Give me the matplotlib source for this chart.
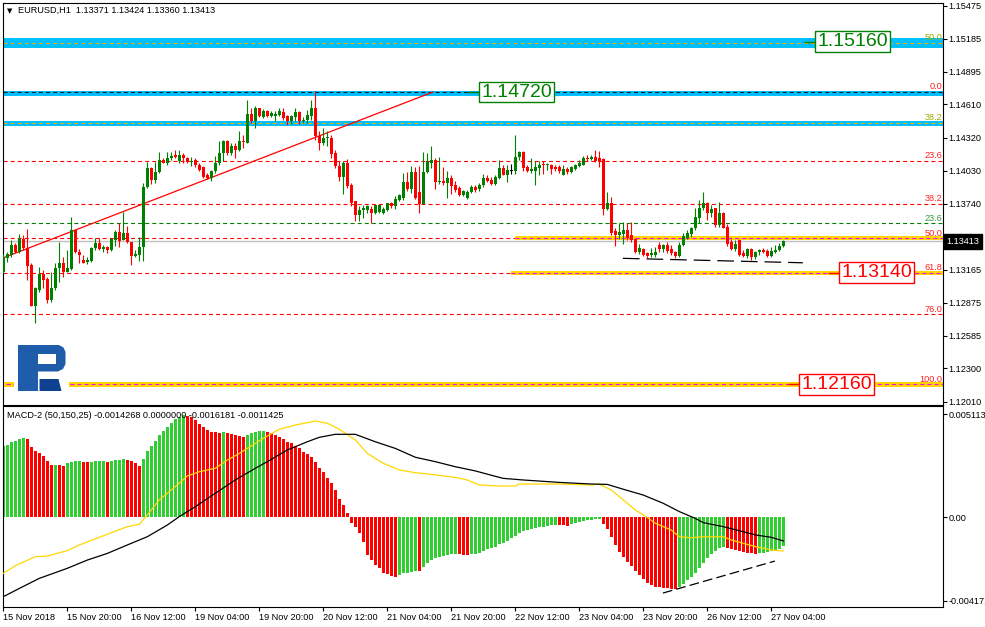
import numpy as np
import matplotlib
matplotlib.use("Agg")
from matplotlib import pyplot as plt
from matplotlib.patches import Polygon, Rectangle

plt.rcParams["font.family"] = ["Liberation Sans", "DejaVu Sans"]
plt.rcParams["lines.scale_dashes"] = False

# ---- EURUSD H1 candles (bar 0 = 15 Nov 2018 04:00) ----
opens = [
    1.13146, 1.13262, 1.13292, 1.13379, 1.13321, 1.13432, 1.13350, 1.13204, 1.12848, 1.12985,
    1.13125, 1.13079, 1.12898, 1.13000, 1.13175, 1.13219, 1.13146, 1.13166, 1.13510, 1.13321,
    1.13248, 1.13233, 1.13242, 1.13350, 1.13394, 1.13344, 1.13365, 1.13335, 1.13423, 1.13490,
    1.13423, 1.13481, 1.13408, 1.13283, 1.13292, 1.13365, 1.13884, 1.14050, 1.13948, 1.14015,
    1.14123, 1.14100, 1.14138, 1.14167, 1.14117, 1.14167, 1.14138, 1.14108, 1.14125, 1.14082,
    1.14062, 1.13989, 1.13965, 1.14024, 1.14097, 1.14184, 1.14286, 1.14184, 1.14243, 1.14213,
    1.14292, 1.14272, 1.14525, 1.14461, 1.14578, 1.14496, 1.14549, 1.14505, 1.14505, 1.14520,
    1.14543, 1.14505, 1.14461, 1.14496, 1.14543, 1.14461, 1.14476, 1.14505, 1.14578, 1.14330,
    1.14272, 1.14315, 1.14315, 1.14184, 1.14067, 1.13971, 1.14097, 1.13907, 1.13761, 1.13645,
    1.13688, 1.13688, 1.13697, 1.13659, 1.13665, 1.13659, 1.13688, 1.13747, 1.13718, 1.13776,
    1.13790, 1.13930, 1.13872, 1.14018, 1.13843, 1.13738, 1.14018, 1.14097, 1.14126, 1.13930,
    1.13942, 1.13922, 1.13965, 1.13907, 1.13878, 1.13820, 1.13790, 1.13843, 1.13884, 1.13872,
    1.13901, 1.13965, 1.13951, 1.13913, 1.13965, 1.14053, 1.13995, 1.14030, 1.14030, 1.14146,
    1.14193, 1.14059, 1.14030, 1.14030, 1.14053, 1.14082, 1.14076, 1.14082, 1.14059, 1.14059,
    1.13995, 1.14047, 1.14018, 1.14047, 1.14067, 1.14082, 1.14140, 1.14131, 1.14152, 1.14143,
    1.14131, 1.13694, 1.13744, 1.13501, 1.13466, 1.13472, 1.13510, 1.13466, 1.13431, 1.13321,
    1.13344, 1.13306, 1.13292, 1.13292, 1.13379, 1.13344, 1.13379, 1.13344, 1.13315, 1.13286,
    1.13379, 1.13443, 1.13472, 1.13525, 1.13618, 1.13700, 1.13744, 1.13656, 1.13700, 1.13554,
    1.13656, 1.13539, 1.13408, 1.13344, 1.13423, 1.13306, 1.13286, 1.13344, 1.13277, 1.13315,
    1.13335, 1.13327, 1.13286, 1.13315, 1.13335, 1.13371,
]
highs = [
    1.13300, 1.13321, 1.13423, 1.13394, 1.13473, 1.13467, 1.13516, 1.13219, 1.13015, 1.13190,
    1.13160, 1.13102, 1.13146, 1.13224, 1.13408, 1.13271, 1.13335, 1.13627, 1.13516, 1.13341,
    1.13292, 1.13277, 1.13365, 1.13437, 1.13437, 1.13379, 1.13370, 1.13437, 1.13510, 1.13569,
    1.13671, 1.13545, 1.13408, 1.13335, 1.13452, 1.13919, 1.14108, 1.14065, 1.14108, 1.14196,
    1.14138, 1.14196, 1.14196, 1.14210, 1.14210, 1.14187, 1.14152, 1.14152, 1.14140, 1.14097,
    1.14067, 1.14009, 1.14038, 1.14155, 1.14286, 1.14301, 1.14301, 1.14272, 1.14272, 1.14374,
    1.14345, 1.14651, 1.14578, 1.14593, 1.14578, 1.14572, 1.14563, 1.14549, 1.14549, 1.14578,
    1.14578, 1.14520, 1.14520, 1.14578, 1.14549, 1.14496, 1.14563, 1.14651, 1.14730, 1.14374,
    1.14403, 1.14380, 1.14345, 1.14213, 1.14111, 1.14111, 1.14135, 1.13922, 1.13767, 1.13717,
    1.13726, 1.13732, 1.13717, 1.13732, 1.13732, 1.13709, 1.13747, 1.13755, 1.13805, 1.13825,
    1.14009, 1.14018, 1.14067, 1.14059, 1.14067, 1.14193, 1.14184, 1.14243, 1.14140, 1.14146,
    1.14059, 1.14030, 1.13995, 1.13936, 1.13892, 1.13863, 1.13863, 1.13907, 1.13907, 1.13922,
    1.14000, 1.13995, 1.13971, 1.13995, 1.14126, 1.14082, 1.14082, 1.14088, 1.14345, 1.14205,
    1.14205, 1.14076, 1.14140, 1.14117, 1.14111, 1.14117, 1.14097, 1.14088, 1.14076, 1.14082,
    1.14076, 1.14059, 1.14067, 1.14088, 1.14126, 1.14155, 1.14170, 1.14166, 1.14210, 1.14201,
    1.14137, 1.13846, 1.13802, 1.13525, 1.13569, 1.13577, 1.13569, 1.13577, 1.13443, 1.13385,
    1.13350, 1.13315, 1.13350, 1.13364, 1.13408, 1.13385, 1.13402, 1.13379, 1.13327, 1.13408,
    1.13481, 1.13510, 1.13539, 1.13705, 1.13773, 1.13846, 1.13758, 1.13729, 1.13705, 1.13758,
    1.13671, 1.13560, 1.13431, 1.13423, 1.13431, 1.13335, 1.13356, 1.13356, 1.13327, 1.13344,
    1.13350, 1.13344, 1.13364, 1.13379, 1.13394, 1.13424,
]
lows = [
    1.13137, 1.13233, 1.13277, 1.13306, 1.13306, 1.13335, 1.13073, 1.12845, 1.12700, 1.12971,
    1.13000, 1.12869, 1.12883, 1.12985, 1.13058, 1.13102, 1.13146, 1.13160, 1.13312, 1.13219,
    1.13219, 1.13213, 1.13233, 1.13335, 1.13335, 1.13321, 1.13306, 1.13330, 1.13370, 1.13359,
    1.13423, 1.13394, 1.13204, 1.13277, 1.13242, 1.13242, 1.13875, 1.13913, 1.13919, 1.14006,
    1.14094, 1.14079, 1.14123, 1.14138, 1.14100, 1.14094, 1.14094, 1.14071, 1.14059, 1.14024,
    1.13965, 1.13960, 1.13936, 1.14009, 1.14082, 1.14117, 1.14170, 1.14170, 1.14140, 1.14199,
    1.14228, 1.14272, 1.14447, 1.14403, 1.14496, 1.14490, 1.14496, 1.14496, 1.14461, 1.14505,
    1.14476, 1.14432, 1.14438, 1.14461, 1.14438, 1.14447, 1.14447, 1.14476, 1.14301, 1.14213,
    1.14257, 1.14243, 1.14140, 1.14053, 1.13936, 1.13825, 1.13878, 1.13717, 1.13586, 1.13586,
    1.13615, 1.13659, 1.13572, 1.13650, 1.13659, 1.13650, 1.13674, 1.13703, 1.13697, 1.13767,
    1.13776, 1.13849, 1.13834, 1.13785, 1.13659, 1.13738, 1.14009, 1.14053, 1.13872, 1.13913,
    1.13907, 1.13790, 1.13825, 1.13843, 1.13805, 1.13811, 1.13785, 1.13834, 1.13843, 1.13855,
    1.13884, 1.13930, 1.13907, 1.13907, 1.13959, 1.13989, 1.13930, 1.14000, 1.14000, 1.14126,
    1.14024, 1.14018, 1.14009, 1.13907, 1.13989, 1.14000, 1.14038, 1.14000, 1.14024, 1.14009,
    1.13989, 1.14000, 1.14009, 1.14038, 1.14059, 1.14076, 1.14111, 1.14123, 1.14108, 1.14064,
    1.13641, 1.13685, 1.13466, 1.13373, 1.13431, 1.13385, 1.13423, 1.13408, 1.13306, 1.13297,
    1.13286, 1.13268, 1.13277, 1.13277, 1.13321, 1.13315, 1.13306, 1.13292, 1.13268, 1.13277,
    1.13373, 1.13431, 1.13452, 1.13510, 1.13569, 1.13685, 1.13598, 1.13627, 1.13539, 1.13539,
    1.13525, 1.13373, 1.13335, 1.13327, 1.13286, 1.13277, 1.13268, 1.13248, 1.13256, 1.13292,
    1.13306, 1.13277, 1.13277, 1.13306, 1.13327, 1.13360,
]
closes = [
    1.13277, 1.13300, 1.13379, 1.13321, 1.13432, 1.13350, 1.13195, 1.12848, 1.13000, 1.13125,
    1.13073, 1.12898, 1.13000, 1.13175, 1.13224, 1.13146, 1.13175, 1.13510, 1.13321, 1.13292,
    1.13224, 1.13248, 1.13356, 1.13394, 1.13341, 1.13359, 1.13335, 1.13429, 1.13496, 1.13414,
    1.13481, 1.13402, 1.13283, 1.13300, 1.13365, 1.13884, 1.14050, 1.13948, 1.14021, 1.14123,
    1.14100, 1.14138, 1.14158, 1.14152, 1.14167, 1.14138, 1.14108, 1.14117, 1.14076, 1.14038,
    1.13971, 1.13965, 1.14024, 1.14097, 1.14184, 1.14286, 1.14184, 1.14243, 1.14213, 1.14292,
    1.14278, 1.14525, 1.14467, 1.14578, 1.14505, 1.14549, 1.14505, 1.14534, 1.14525, 1.14549,
    1.14490, 1.14461, 1.14505, 1.14543, 1.14461, 1.14476, 1.14520, 1.14578, 1.14330, 1.14272,
    1.14315, 1.14320, 1.14175, 1.14067, 1.13971, 1.14097, 1.13892, 1.13747, 1.13645, 1.13688,
    1.13703, 1.13717, 1.13659, 1.13726, 1.13726, 1.13697, 1.13744, 1.13717, 1.13785, 1.13814,
    1.13930, 1.13872, 1.14018, 1.13790, 1.13738, 1.14018, 1.14111, 1.14126, 1.13930, 1.13942,
    1.13922, 1.13965, 1.13892, 1.13863, 1.13814, 1.13855, 1.13843, 1.13884, 1.13863, 1.13907,
    1.13965, 1.13936, 1.13913, 1.13971, 1.14053, 1.13995, 1.14038, 1.14030, 1.14146, 1.14193,
    1.14053, 1.14030, 1.14047, 1.14059, 1.14082, 1.14076, 1.14082, 1.14047, 1.14047, 1.14030,
    1.14047, 1.14018, 1.14059, 1.14076, 1.14097, 1.14140, 1.14129, 1.14152, 1.14114, 1.14108,
    1.13694, 1.13744, 1.13481, 1.13466, 1.13490, 1.13510, 1.13443, 1.13423, 1.13321, 1.13350,
    1.13292, 1.13286, 1.13306, 1.13321, 1.13344, 1.13379, 1.13327, 1.13306, 1.13286, 1.13379,
    1.13461, 1.13481, 1.13531, 1.13627, 1.13700, 1.13744, 1.13656, 1.13694, 1.13554, 1.13656,
    1.13531, 1.13385, 1.13344, 1.13385, 1.13292, 1.13286, 1.13344, 1.13277, 1.13315, 1.13335,
    1.13315, 1.13286, 1.13327, 1.13335, 1.13373, 1.13413,
]

# ---- MACD-2 (50,150,25) ----
macd_hist = [
    0.00353, 0.00358, 0.00371, 0.00379, 0.00389, 0.00393, 0.00386, 0.00350, 0.00328, 0.00320,
    0.00303, 0.00278, 0.00258, 0.00260, 0.00257, 0.00254, 0.00267, 0.00273, 0.00277, 0.00278,
    0.00273, 0.00272, 0.00275, 0.00277, 0.00278, 0.00280, 0.00275, 0.00278, 0.00282, 0.00285,
    0.00287, 0.00283, 0.00278, 0.00267, 0.00254, 0.00287, 0.00328, 0.00353, 0.00378, 0.00408,
    0.00429, 0.00449, 0.00469, 0.00486, 0.00499, 0.00507, 0.00502, 0.00495, 0.00482, 0.00462,
    0.00446, 0.00432, 0.00424, 0.00423, 0.00419, 0.00421, 0.00416, 0.00411, 0.00408, 0.00403,
    0.00399, 0.00409, 0.00416, 0.00424, 0.00428, 0.00429, 0.00424, 0.00416, 0.00408, 0.00396,
    0.00386, 0.00374, 0.00366, 0.00353, 0.00341, 0.00325, 0.00312, 0.00300, 0.00275, 0.00242,
    0.00225, 0.00196, 0.00167, 0.00134, 0.00091, 0.00060, 0.00018, -0.00028, -0.00048, -0.00078,
    -0.00123, -0.00189, -0.00214, -0.00239, -0.00255, -0.00277, -0.00283, -0.00293, -0.00297, -0.00288,
    -0.00280, -0.00277, -0.00272, -0.00267, -0.00270, -0.00250, -0.00230, -0.00214, -0.00205, -0.00200,
    -0.00194, -0.00189, -0.00186, -0.00182, -0.00186, -0.00189, -0.00191, -0.00186, -0.00182, -0.00177,
    -0.00169, -0.00161, -0.00154, -0.00147, -0.00134, -0.00128, -0.00118, -0.00106, -0.00094, -0.00081,
    -0.00070, -0.00065, -0.00060, -0.00056, -0.00051, -0.00048, -0.00045, -0.00041, -0.00038, -0.00040,
    -0.00041, -0.00043, -0.00035, -0.00031, -0.00027, -0.00022, -0.00017, -0.00013, -0.00012, -0.00010,
    -0.00036, -0.00061, -0.00098, -0.00139, -0.00172, -0.00197, -0.00222, -0.00244, -0.00268, -0.00288,
    -0.00308, -0.00326, -0.00340, -0.00346, -0.00350, -0.00353, -0.00355, -0.00356, -0.00358, -0.00350,
    -0.00333, -0.00313, -0.00297, -0.00280, -0.00255, -0.00230, -0.00205, -0.00184, -0.00167, -0.00156,
    -0.00147, -0.00152, -0.00159, -0.00164, -0.00169, -0.00176, -0.00179, -0.00181, -0.00182, -0.00181,
    -0.00177, -0.00172, -0.00167, -0.00164, -0.00159, -0.00143,
]
yellow_bars = [0, 3, 8, 11, 16, 19, 24, 27, 31, 34, 36, 39, 43, 46, 49, 53, 56, 59, 63, 66,
               69, 73, 78, 81, 84, 88, 91, 95, 99, 103, 106, 109, 113, 116, 119, 124, 128, 129, 139, 147,
               149, 152, 155, 158, 161, 163, 167, 169, 172, 175, 180, 182, 185, 188, 192, 195]
yellow_vals = [-0.00280, -0.00242, -0.00197, -0.00194, -0.00167, -0.00139, -0.00101, -0.00078, -0.00048, -0.00036,
               0.00010, 0.00085, 0.00151, 0.00204, 0.00225, 0.00242, 0.00283, 0.00316, 0.00366, 0.00403,
               0.00436, 0.00457, 0.00477, 0.00466, 0.00436, 0.00383, 0.00316, 0.00267, 0.00234, 0.00220,
               0.00214, 0.00207, 0.00197, 0.00184, 0.00159, 0.00154, 0.00154, 0.00164, 0.00164, 0.00159,
               0.00164, 0.00134, 0.00085, 0.00035, -0.00002, -0.00031, -0.00065, -0.00098, -0.00103, -0.00098,
               -0.00098, -0.00114, -0.00131, -0.00147, -0.00164, -0.00169]
black_bars = [0, 4, 9, 16, 21, 26, 31, 36, 41, 44, 48, 53, 58, 63, 66, 71, 76, 79, 83, 88,
              93, 98, 103, 108, 113, 118, 124, 125, 130, 139, 147, 151, 155, 160, 165, 169, 173, 175, 180, 185,
              188, 192, 195]
black_vals = [-0.00396, -0.00355, -0.00305, -0.00255, -0.00214, -0.00181, -0.00139, -0.00098, -0.00040, 0.00002,
              0.00051, 0.00118, 0.00184, 0.00242, 0.00275, 0.00333, 0.00374, 0.00396, 0.00411, 0.00411,
              0.00374, 0.00341, 0.00297, 0.00275, 0.00250, 0.00229, 0.00197, 0.00192, 0.00184, 0.00172,
              0.00164, 0.00162, 0.00138, 0.00109, 0.00068, 0.00027, -0.00007, -0.00028, -0.00048, -0.00073,
              -0.00089, -0.00101, -0.00119]

# ---- axis labels ----
price_ticks = [1.15475, 1.15185, 1.14895, 1.14610, 1.14320, 1.14030, 1.13740,
               1.13455, 1.13165, 1.12875, 1.12585, 1.12300, 1.12010]
macd_ticks = [0.005113, 0.0, -0.004171]
macd_tick_labels = ["0.005113", "0.00", "-0.004171"]
date_bars = [0, 16, 32, 48, 64, 80, 96, 112, 128, 144, 160, 176, 192]
date_labels = ["15 Nov 2018", "15 Nov 20:00", "16 Nov 12:00", "19 Nov 04:00", "19 Nov 20:00",
               "20 Nov 12:00", "21 Nov 04:00", "21 Nov 20:00", "22 Nov 12:00", "23 Nov 04:00",
               "23 Nov 20:00", "26 Nov 12:00", "27 Nov 04:00"]

# ---- drawn objects ----
fib_levels = [1.14116, 1.13742, 1.13440, 1.13138, 1.12774]       # red dashed fibo lines
fib_green = 1.13569
fib_labels = [("50.0", 1.15149, "#9aab00"), ("0.0", 1.14720, "#ff2020"), ("38.2", 1.14448, "#9aab00"),
              ("23.6", 1.14116, "#ff2020"), ("38.2", 1.13742, "#ff2020"), ("23.6", 1.13569, "#2e9a3e"),
              ("50.0", 1.13440, "#ff2020"), ("61.8", 1.13138, "#ff2020"), ("76.0", 1.12774, "#ff2020"),
              ("100.0", 1.12160, "#ff2020")]
blue_zones = [(1.15106, 1.15188, 1.15149, "#f0b000"),
              (1.14686, 1.14729, 1.14720, "#202020"),
              (1.14423, 1.14466, 1.14448, "#f0b000")]
gold_zones = [(127.9, 1.13423, 1.13458, 1.13440),
              (126.9, 1.13119, 1.13154, 1.13138),
              (-1.0, 1.12140, 1.12181, 1.12160)]
price_boxes = [("1.15160", 1.15160, 200.2, 203.5, "#008000"),
               ("1.14720", 1.14718, 115.9, 119.5, "#008000"),
               ("1.13140", 1.13138, 206.2, 209.5, "#ff0000"),
               ("1.12160", 1.12160, 196.2, 199.5, "#ff0000")]
trend_x, trend_y = [-0.1, 107.4], [1.13266, 1.14718]
support_x, support_y = [154.9, 199.9], [1.13263, 1.13224]
diverg_x, diverg_y = [164.9, 192.9], [-0.00378, -0.00219]
last_price = 1.13413

W, H = 985, 627


def fx(px):
    return px / W


def fy(py):
    return 1 - py / H


fig = plt.figure(figsize=(W / 100, H / 100), dpi=100, facecolor="white")
ax = fig.add_axes([fx(2.5), fy(404.5), (943 - 2.5) / W, (404.5 - 3) / H])
axm = fig.add_axes([fx(2.5), fy(606.5), (943 - 2.5) / W, (606.5 - 406) / H], sharex=ax)

XR = 240
short_dash = (0, (2.9, 2.2))

# zones and levels
for lo, hi, lvl, dcol in blue_zones:
    ax.axhspan(lo, hi, color="#00bfff", lw=0, zorder=1)
    ax.axhline(lvl, color=dcol, lw=0.8, ls=short_dash, zorder=2)
for lvl in fib_levels:
    ax.axhline(lvl, color="#ff0000", lw=0.8, ls=short_dash, zorder=1)
ax.axhline(fib_green, color="#008000", lw=0.8, ls=short_dash, zorder=1)
for start, lo, hi, lvl in gold_zones:
    ax.fill_between([start, XR], lo, hi, color="#ffd700", lw=0, zorder=1.5)
    ax.hlines(lvl, start, XR, color="#ff00ff", lw=0.8, ls=short_dash, zorder=2)
ax.axhline(last_price, color="#c0c0c0", lw=1.0, zorder=1.8)

for txt, lvl, col in fib_labels:
    ax.text(234.7, lvl + 0.00004, txt, ha="right", va="bottom", fontsize=6.6, color=col, zorder=3)

# candles
x = np.arange(len(opens))
o, h, l, c = (np.array(v) for v in (opens, highs, lows, closes))
ccol = np.where(c > o, "#008000", np.where(c < o, "#ff0000", "#000000"))
ax.vlines(x, np.minimum(l, np.minimum(o, c)), np.maximum(h, np.maximum(o, c)),
          colors=ccol, lw=0.8, zorder=4)
ax.bar(x, np.maximum(np.abs(c - o), 0.00009), bottom=np.minimum(o, c), width=0.75,
       color=ccol, lw=0, zorder=5)

ax.plot(trend_x, trend_y, color="#ff0000", lw=0.9, zorder=3)
ax.plot(support_x, support_y, color="black", lw=0.9, ls=(0, (12, 5)), zorder=3)

for txt, lvl, x0, xt, col in price_boxes:
    ax.hlines(lvl, x0, xt, color=col, lw=1.0, zorder=6)
    ax.text(xt, lvl, txt, ha="left", va="center", fontsize=14, color=col, zorder=7,
            bbox=dict(boxstyle="square,pad=0.1", fc="white", ec=col, lw=1.0))

ax.set_xlim(-0.2, 234.925)
ax.set_ylim(1.11984, 1.15497)
ax.yaxis.tick_right()
ax.set_yticks(price_ticks)
ax.set_yticklabels([f"{v:.5f}" for v in price_ticks])
ax.tick_params(axis="y", length=3, width=0.8, pad=1, labelsize=6.6, direction="out")
ax.tick_params(axis="x", bottom=False, labelbottom=False)

# MACD panel
hist = np.array(macd_hist)
hcol = []
cur = "#32cd32"
for i in range(len(hist)):
    if i > 0 and hist[i] > hist[i - 1]:
        cur = "#32cd32"
    elif i > 0 and hist[i] < hist[i - 1]:
        cur = "#ff0000"
    hcol.append(cur)
axm.bar(x, hist, width=0.75, color=hcol, lw=0, zorder=2)
axm.plot(yellow_bars, yellow_vals, color="#ffd700", lw=0.9, zorder=3)
axm.plot(black_bars, black_vals, color="black", lw=0.9, zorder=3)
axm.plot(diverg_x, diverg_y, color="black", lw=0.9, ls=(0, (7, 3)), zorder=3)

axm.set_ylim(-0.004448, 0.005517)
axm.yaxis.tick_right()
axm.set_yticks(macd_ticks)
axm.set_yticklabels(macd_tick_labels)
axm.set_xticks(date_bars)
axm.set_xticklabels(date_labels, ha="left")
axm.tick_params(axis="y", length=3, width=0.8, pad=1, labelsize=6.6)
axm.tick_params(axis="x", length=3, width=0.8, pad=1.5, labelsize=6.6)

for a in (ax, axm):
    for s in a.spines.values():
        s.set_linewidth(0.8)
        s.set_color("black")

# headers
fig.text(fx(7), fy(11), "\u25bc", fontsize=5, family="DejaVu Sans", va="center")
fig.text(fx(18), fy(10.7), "EURUSD,H1  1.13371 1.13424 1.13360 1.13413", fontsize=6.6, va="center")
fig.text(fx(7), fy(416), "MACD-2 (50,150,25) -0.0014268 0.0000000 -0.0016181 -0.0011425",
         fontsize=6.6, va="center")
fig.text(fx(946.5), fy(241.5), f"{last_price:.5f}", fontsize=6.6, color="white", va="center",
         bbox=dict(boxstyle="square,pad=0.3", fc="black", ec="black"))

# logo
lax = fig.add_axes([fx(14), fy(395), 55 / W, 57 / H])
lax.set_xlim(14, 69)
lax.set_ylim(395, 338)
lax.set_xticks([])
lax.set_yticks([])
for s in lax.spines.values():
    s.set_visible(False)
lax.add_patch(Polygon([(18, 345), (59, 345), (63.5, 347.5), (65.5, 352), (65.5, 364), (63, 369),
                       (58, 371.5), (38, 371.5), (38, 391), (18, 391)], closed=True,
                      fc="#1f5daa", ec="none"))
lax.add_patch(Rectangle((38, 354), 18, 10, fc="white", ec="none"))
lax.add_patch(Polygon([(39.5, 379), (58.5, 379), (61.5, 391), (39.5, 391)], closed=True,
                      fc="#0e418f", ec="none"))

fig.savefig("out.png", dpi=100)
